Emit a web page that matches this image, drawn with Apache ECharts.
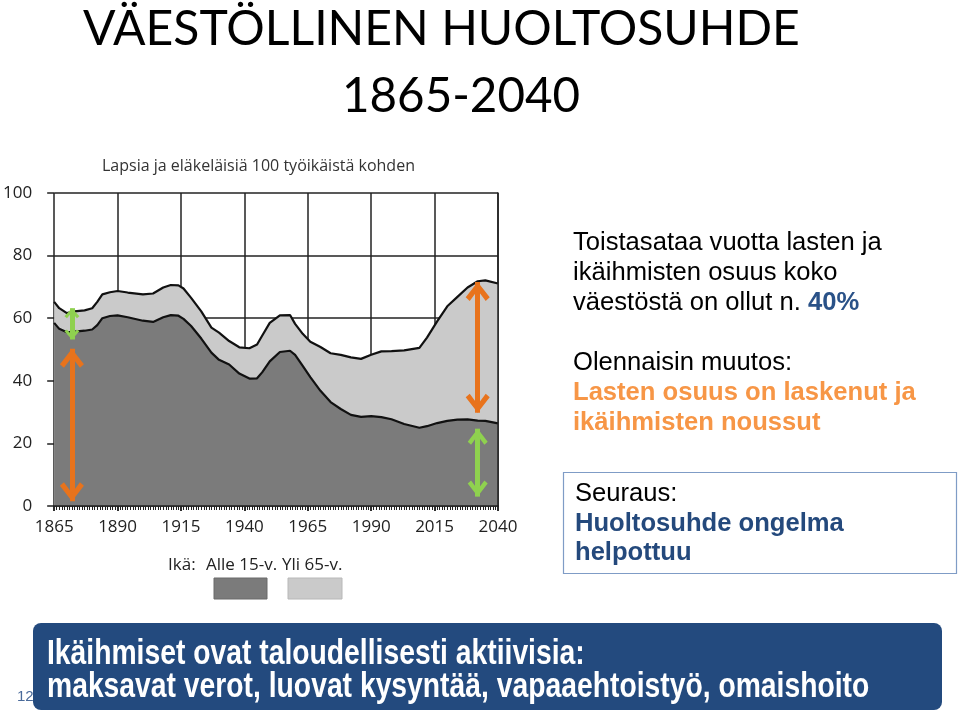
<!DOCTYPE html>
<html><head><meta charset="utf-8">
<script src="https://cdn.jsdelivr.net/npm/echarts@6/dist/echarts.min.js"></script>
<style>html,body{margin:0;padding:0;background:#fff}#c{width:960px;height:712px}</style>
</head><body><div id="c"></div>
<script>
// ---- data ----
const years = [1865,1867,1870,1873,1877,1880,1882,1884,1887,1890,1894,1900,1904,1908,1911,1914,1916,1919,1923,1927,1930,1934,1938,1942,1945,1947,1950,1954,1958,1960,1963,1966,1970,1974,1978,1982,1986,1990,1994,1998,2003,2009,2012,2016,2020,2024,2028,2032,2035,2040];
// children under 15 per 100 working-age (lower boundary, dark area)
const childrenValues = [58.5,56.6,55.5,55.7,56.0,56.4,57.8,60.0,60.7,60.9,60.3,59.2,58.8,60.3,61.0,60.8,59.8,57.5,53.5,49.0,46.7,45.2,42.3,40.7,40.8,42.7,46.2,49.2,49.6,48.3,44.8,41.2,36.8,33.2,31.0,29.1,28.5,28.7,28.4,27.7,26.2,25.0,25.5,26.5,27.2,27.6,27.7,27.3,27.2,26.4];
// children + over 65 per 100 working-age (upper boundary, top of the light area)
const totalValues = [65.2,63.2,61.6,62.2,62.5,63.2,65.2,67.6,68.3,68.7,68.2,67.6,67.9,69.8,70.6,70.5,69.5,66.5,62.2,57.0,55.4,52.7,50.7,50.4,51.6,54.4,58.5,60.9,61.0,58.2,55.0,52.5,50.8,48.8,48.3,47.5,47.0,48.3,49.4,49.5,49.7,50.5,53.8,59.0,63.8,66.8,69.8,71.8,72.1,71.1];
const seriesNames = ['Alle 15-v.','Yli 65-v.'];
const xMin = 1865, xMax = 2040, xStep = 25;
const yMin = 0, yMax = 100, yStep = 20;
// annotation arrows: [year, fromValue, toValue]
const orangeArrows = [[1872, 50.2, 1.5], [2032, 71.6, 29.8]];
const greenArrows = [[1872, 63.2, 53.2], [2032, 24.7, 3.0]];

const chartTitle = 'Lapsia ja eläkeläisiä 100 työikäistä kohden';
const pageTitle1 = 'VÄESTÖLLINEN HUOLTOSUHDE';
const pageTitle2 = '1865-2040';
const bannerLine1 = 'Ikäihmiset ovat taloudellisesti aktiivisia:';
const bannerLine2 = 'maksavat verot, luovat kysyntää, vapaaehtoistyö, omaishoito';

// ---- helpers ----
const mctx = document.createElement('canvas').getContext('2d');
function fit(text, family, weight, width) {
  mctx.font = weight + ' 100px "' + family + '"';
  return 100 * width / mctx.measureText(text).width;
}
const chevron = 'path://M12,16 L24,29 L20,32 L12,23 L4,32 L0,29 Z M12,0 L12.01,0 L12,0.01 Z';
function arrowLines(list, bigSize, smallSize) {
  return list.map(a => {
    const size = Math.abs(a[1] - a[2]) < 15 ? smallSize : bigSize;
    return [{coord: [a[0], a[1]], symbolSize: size}, {coord: [a[0], a[2]], symbolSize: size}];
  });
}

const chartFont = 'Open Sans';
const slideFont = 'Liberation Sans';
const t1 = fit(pageTitle1, 'Lato', 'normal', 717);
const t2 = fit(pageTitle2, 'Lato', 'normal', 238);
const rs = fit('Toistasataa vuotta lasten ja', slideFont, 'normal', 309);
const narrow = 0.82;
const bs = fit(bannerLine2, slideFont, 'bold', 823 / narrow);

const chart = echarts.init(document.getElementById('c'), null, {renderer: 'canvas'});
const axisBase = {type: 'value', min: xMin, max: xMax, interval: xStep};
const yearFmt = v => String(v);
chart.setOption({
  animation: false,
  backgroundColor: '#fff',
  title: {
    text: chartTitle, left: 102, top: 158, padding: 0,
    textStyle: {fontFamily: chartFont, fontSize: 16, fontWeight: 'normal', color: '#333'}
  },
  grid: {left: 53, right: 462, top: 193, bottom: 206},
  xAxis: [
    Object.assign({}, axisBase, {
      axisLine: {show: false},
      axisTick: {show: true, length: 5, lineStyle: {color: '#222', width: 1.5}},
      axisLabel: {show: true, margin: 13, fontFamily: chartFont, fontSize: 17, color: '#222', showMinLabel: true, showMaxLabel: true, formatter: yearFmt},
      splitLine: {show: true, lineStyle: {color: '#222', width: 1.5}}
    }),
    Object.assign({}, axisBase, {
      z: 10,
      axisLine: {show: true, lineStyle: {color: '#222', width: 1.5}},
      axisTick: {show: true, inside: true, length: 5, lineStyle: {color: '#222', width: 1.5}},
      minorTick: {show: true, splitNumber: 25, length: 4, lineStyle: {color: '#222', width: 1}},
      axisLabel: {show: false},
      splitLine: {show: false}
    })
  ],
  yAxis: [
    {
      type: 'value', min: yMin, max: yMax, interval: yStep,
      axisLine: {show: false},
      axisTick: {show: true, length: 7, lineStyle: {color: '#222', width: 1.5}},
      axisLabel: {margin: 22, fontFamily: chartFont, fontSize: 17, color: '#222'},
      splitLine: {show: true, lineStyle: {color: '#222', width: 1.5}}
    },
    {
      type: 'value', min: yMin, max: yMax, interval: yStep, z: 10,
      axisLine: {show: true, lineStyle: {color: '#222', width: 1.5}},
      axisTick: {show: false}, axisLabel: {show: false}, splitLine: {show: false}
    }
  ],
  series: [
    {
      name: seriesNames[1], type: 'line', symbol: 'none',
      data: years.map((y, i) => [y, totalValues[i]]),
      lineStyle: {color: '#111', width: 2.2},
      areaStyle: {color: '#cacaca', opacity: 1},
      z: 2
    },
    {
      name: seriesNames[0], type: 'line', symbol: 'none',
      data: years.map((y, i) => [y, childrenValues[i]]),
      lineStyle: {color: '#111', width: 2.2},
      areaStyle: {color: '#7b7b7b', opacity: 1},
      z: 3
    },
    {
      name: 'orangeArrows', type: 'line', data: [], z: 20,
      markLine: {
        silent: true, animation: false, z: 20,
        symbol: [chevron, chevron], symbolSize: [24, 38],
        label: {show: false},
        emphasis: {disabled: true},
        data: arrowLines(orangeArrows, [24, 38], [16, 24]),
        lineStyle: {color: '#e8731c', width: 5, type: 'solid'}
      }
    },
    {
      name: 'greenArrows', type: 'line', data: [], z: 20,
      markLine: {
        silent: true, animation: false, z: 20,
        symbol: [chevron, chevron], symbolSize: [20, 32],
        label: {show: false},
        emphasis: {disabled: true},
        data: arrowLines(greenArrows, [20, 32], [15, 20]),
        lineStyle: {color: '#8fd14f', width: 5, type: 'solid'}
      }
    }
  ],
  graphic: [
    {type: 'text', x: 83, y: 27 + t1 * 0.06, style: {text: pageTitle1, font: 'normal ' + t1.toFixed(1) + 'px Lato', fill: '#000', verticalAlign: 'middle'}},
    {type: 'text', x: 342, y: 94 + t2 * 0.06, style: {text: pageTitle2, font: 'normal ' + t2.toFixed(1) + 'px Lato', fill: '#000', verticalAlign: 'middle'}},
    // legend
    {type: 'text', x: 168, y: 565, style: {text: 'Ikä:', font: '17px "' + chartFont + '"', fill: '#222', verticalAlign: 'middle'}},
    {type: 'text', x: 206, y: 565, style: {text: seriesNames[0], font: '17px "' + chartFont + '"', fill: '#222', verticalAlign: 'middle'}},
    {type: 'text', x: 282, y: 565, style: {text: seriesNames[1], font: '17px "' + chartFont + '"', fill: '#222', verticalAlign: 'middle'}},
    {type: 'rect', shape: {x: 214, y: 578, width: 53, height: 21}, style: {fill: '#7b7b7b', stroke: '#6a6a6a', lineWidth: 1}},
    {type: 'rect', shape: {x: 288, y: 578, width: 54, height: 21}, style: {fill: '#cacaca', stroke: '#b8b8b8', lineWidth: 1}},
    // right text
    {type: 'text', x: 573, y: 243, style: {text: 'Toistasataa vuotta lasten ja', font: rs.toFixed(1) + 'px "' + slideFont + '"', fill: '#000', verticalAlign: 'middle'}},
    {type: 'text', x: 573, y: 273, style: {text: 'ikäihmisten osuus koko', font: rs.toFixed(1) + 'px "' + slideFont + '"', fill: '#000', verticalAlign: 'middle'}},
    {type: 'text', x: 573, y: 303, style: {
      text: '{n|väestöstä on ollut n. }{b|40%}', verticalAlign: 'middle',
      rich: {
        n: {fontFamily: slideFont, fontSize: rs, fill: '#000'},
        b: {fontFamily: slideFont, fontSize: rs, fontWeight: 'bold', fill: '#2a5288'}
      }
    }},
    {type: 'text', x: 573, y: 363, style: {text: 'Olennaisin muutos:', font: rs.toFixed(1) + 'px "' + slideFont + '"', fill: '#000', verticalAlign: 'middle'}},
    {type: 'text', x: 573, y: 393, style: {text: 'Lasten osuus on laskenut ja', font: 'bold ' + rs.toFixed(1) + 'px "' + slideFont + '"', fill: '#f79646', verticalAlign: 'middle'}},
    {type: 'text', x: 573, y: 423, style: {text: 'ikäihmisten noussut', font: 'bold ' + rs.toFixed(1) + 'px "' + slideFont + '"', fill: '#f79646', verticalAlign: 'middle'}},
    {type: 'rect', shape: {x: 563.5, y: 472.5, width: 393, height: 101}, style: {fill: '#fff', stroke: '#7f9cc6', lineWidth: 1.2}},
    {type: 'text', x: 575, y: 494, style: {text: 'Seuraus:', font: rs.toFixed(1) + 'px "' + slideFont + '"', fill: '#000', verticalAlign: 'middle'}},
    {type: 'text', x: 575, y: 524, style: {text: 'Huoltosuhde ongelma', font: 'bold ' + rs.toFixed(1) + 'px "' + slideFont + '"', fill: '#24497c', verticalAlign: 'middle'}},
    {type: 'text', x: 575, y: 553, style: {text: 'helpottuu', font: 'bold ' + rs.toFixed(1) + 'px "' + slideFont + '"', fill: '#24497c', verticalAlign: 'middle'}},
    // bottom banner
    {type: 'text', x: 17, y: 697, style: {text: '12', font: '15px "' + slideFont + '"', fill: '#4a6a9a', verticalAlign: 'middle'}},
    {type: 'rect', shape: {x: 33, y: 623, width: 909, height: 87, r: 8}, style: {fill: '#234a7e'}},
    {type: 'text', x: 47, y: 654, scaleX: narrow, style: {text: bannerLine1, font: 'bold ' + bs.toFixed(1) + 'px "' + slideFont + '"', fill: '#fff', verticalAlign: 'middle'}},
    {type: 'text', x: 47, y: 687, scaleX: narrow, style: {text: bannerLine2, font: 'bold ' + bs.toFixed(1) + 'px "' + slideFont + '"', fill: '#fff', verticalAlign: 'middle'}}
  ]
});
</script>
</body></html>
